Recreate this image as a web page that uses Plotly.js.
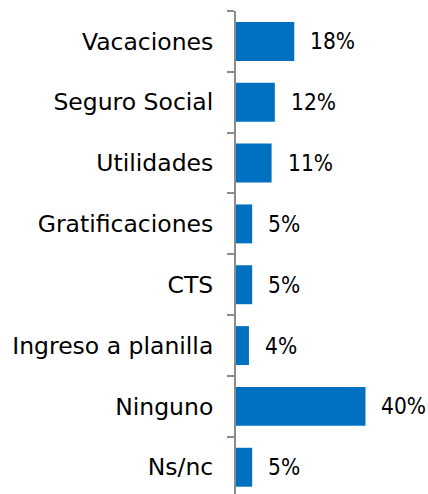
<!DOCTYPE html>
<html>
<head>
<meta charset="utf-8">
<script src="https://cdn.plot.ly/plotly-3.0.1.min.js"></script>
<style>html,body{margin:0;padding:0;background:#fff;}#chart{width:428px;height:494px;}</style>
</head>
<body>
<div id="chart"></div>
<script>
const categories = ["Vacaciones", "Seguro Social", "Utilidades", "Gratificaciones", "CTS", "Ingreso a planilla", "Ninguno", "Ns/nc"];
const values = [18, 12, 11, 5, 5, 4, 40, 5];
const valueLabels = ["18%", "12%", "11%", "5%", "5%", "4%", "40%", "5%"];

const FONT = "DejaVu Sans, Liberation Sans, Arial, sans-serif";
const LABEL_FONT = "DejaVu Sans Condensed, DejaVu Sans, sans-serif";

const trace = {
  type: "bar",
  orientation: "h",
  x: values,
  y: categories,
  marker: {color: "#0070C0", line: {width: 0}},
  hoverinfo: "none"
};

const annotations = categories.map((c, i) => ({
  x: values[i], y: c, xref: "x", yref: "y",
  text: valueLabels[i], showarrow: false,
  xanchor: "left", yanchor: "middle", xshift: 14,
  font: {family: LABEL_FONT, size: 22.5, color: "#000"}
}));

const layout = {
  width: 428, height: 494,
  margin: {l: 236, r: 14, t: 11, b: 0, pad: 0},
  paper_bgcolor: "#fff", plot_bgcolor: "#fff",
  showlegend: false,
  bargap: 0.36,
  font: {family: FONT, size: 23.5, color: "#000"},
  xaxis: {range: [0, 55], visible: false, fixedrange: true},
  yaxis: {
    type: "category",
    categoryorder: "array", categoryarray: categories,
    range: [7.44, -0.5],
    showline: true, linecolor: "#8c8c8c", linewidth: 2,
    ticks: "outside", tickson: "boundaries", ticklen: 7, tickcolor: "#8c8c8c", tickwidth: 2,
    showgrid: false, zeroline: false,
    ticklabelstandoff: 16,
    tickfont: {family: FONT, size: 23.5, color: "#000"}
  },
  annotations: annotations
};

Plotly.newPlot("chart", [trace], layout, {displayModeBar: false, staticPlot: true});
</script>
</body>
</html>
